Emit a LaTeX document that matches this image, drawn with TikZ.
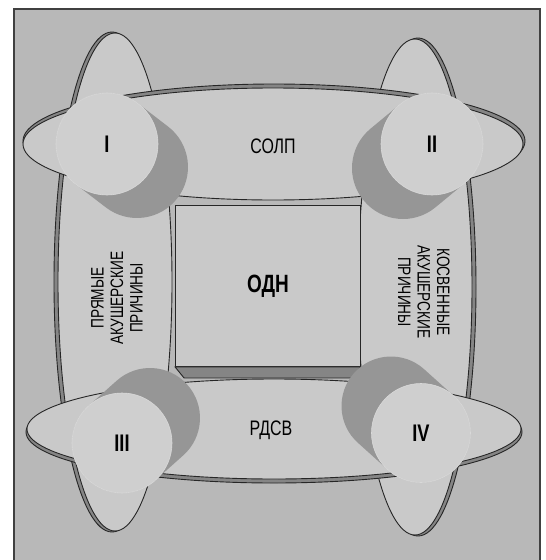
\documentclass[tikz,border=0pt]{standalone}
\usepackage{fontspec}
\setmainfont{Liberation Sans}[FakeStretch=0.76]

\colorlet{paper}{black!28}
\colorlet{ringfill}{black!21}
\colorlet{rimfill}{black!48}
\colorlet{shade}{black!41}
\colorlet{facefill}{black!19}

\begin{document}
\begin{tikzpicture}[x=1pt,y=-1pt,
  frame/.style={draw=black!75,line width=1.6pt},
  rim/.style={draw=black!85,fill=rimfill,line width=0.9pt},
  ring/.style={draw=black!85,fill=ringfill,line width=0.9pt},
  tube/.style={draw=shade,line width=#1,line cap=round},
  tube/.default=102pt,
  face/.style={circle,fill=facefill,draw=black!15,line width=0.6pt,minimum size=#1,inner sep=0pt,font=\fontsize{24}{24}\selectfont\bfseries},
  face/.default=102pt,
  box/.style={ring,rectangle,minimum width=185pt,minimum height=161pt,inner sep=0pt,font=\fontsize{25}{25}\selectfont\bfseries},
  lbl/.style={font=\fontsize{21}{21}\selectfont},
  side/.style={align=center,font=\fontsize{18}{19.5}\selectfont}]
\useasboundingbox (0,0) rectangle (546,560);
\fill[white] (0,0) rectangle (546,560);
\fill[paper] (14,9) rectangle (540,560);
\draw[frame] (14,562) -- (14,9) -- (540,9) -- (540,562);

% side rings
\draw[rim] (112,282) ellipse [x radius=58pt,y radius=250pt];
\draw[ring] (115,282) ellipse [x radius=57pt,y radius=249pt];
\draw[rim] (418,287) ellipse [x radius=58pt,y radius=249pt];
\draw[ring] (415,287) ellipse [x radius=57pt,y radius=248pt];
% top and bottom rings
\draw[rim] (274,141) ellipse [x radius=251pt,y radius=57pt];
\draw[ring] (273,144) ellipse [x radius=250pt,y radius=56pt];
\draw[rim] (274,432) ellipse [x radius=248pt,y radius=51pt];
\draw[ring] (274,429) ellipse [x radius=247pt,y radius=50pt];

% centre box
\node[box] (odn) at (268,286) {ОДН};
\draw[rim] (odn.south west) -- (odn.south east) -- ++(-9,11)
  -- ([xshift=9pt,yshift=-11pt]odn.south west) -- cycle;

\node[lbl] (solp) at (273,146) {СОЛП};
\node[lbl] (rdsv) at (271,430) {РДСВ};
\node[side,rotate=90] (direct) at (117,298) {ПРЯМЫЕ\\АКУШЕРСКИЕ\\ПРИЧИНЫ};
\node[side,rotate=-90] (indirect) at (424,292) {КОСВЕННЫЕ\\АКУШЕРСКИЕ\\ПРИЧИНЫ};

% cylinders
\coordinate (f1) at (107,144);
\coordinate (b1) at (137,167);
\draw[tube] (f1) -- (b1);
\node[face] (c1) at (f1) {I};
\coordinate (f2) at (432,144);
\coordinate (b2) at (403,168);
\draw[tube] (f2) -- (b2);
\node[face] (c2) at (f2) {II};
\coordinate (f3) at (122,443);
\coordinate (b3) at (150,418);
\draw[tube=100pt] (f3) -- (b3);
\node[face=100pt] (c3) at (f3) {III};
\coordinate (f4) at (421,433);
\coordinate (b4) at (391,406);
\draw[tube=99pt] (f4) -- (b4);
\node[face=99pt] (c4) at (f4) {IV};
\end{tikzpicture}
\end{document}
